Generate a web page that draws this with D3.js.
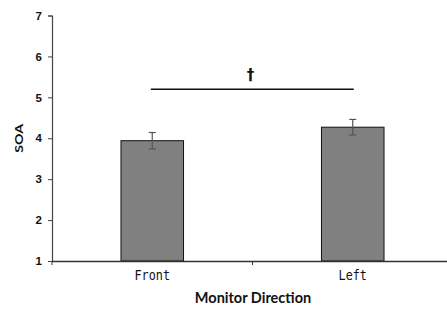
<!DOCTYPE html>
<html>
<head>
<meta charset="utf-8">
<script src="https://cdn.jsdelivr.net/npm/d3@7"></script>
<style>
  html, body { margin: 0; padding: 0; background: #fff; }
  svg { display: block; }
</style>
</head>
<body>
<svg id="chart" width="447" height="309"></svg>
<script>
const categories = ["Front", "Left"];
const means = [3.94, 4.27];
const errors = [0.2, 0.19];
const yTicks = [1, 2, 3, 4, 5, 6, 7];
const sigLevel = 5.2;
const sigMark = "†";
const yTitle = "SOA";
const xTitle = "Monitor Direction";

(function () {
const svg = d3.select("#chart");
const mLeft = 52, mRight = 453, mTop = 15.5, mBottom = 261;

const y = d3.scaleLinear().domain([1, 7]).range([mBottom, mTop]);
const x = d3.scaleBand().domain(categories).range([mLeft, mRight]).padding(0);
const barW = x.bandwidth() * 0.312;

// bars
svg.selectAll("rect.bar").data(categories).enter().append("rect")
  .attr("class", "bar")
  .attr("x", d => x(d) + x.bandwidth() / 2 - barW / 2)
  .attr("y", (d, i) => y(means[i]))
  .attr("width", barW)
  .attr("height", (d, i) => y(1) - y(means[i]))
  .attr("fill", "#808080")
  .attr("stroke", "#111")
  .attr("stroke-width", 1);

// error bars
const eb = svg.selectAll("g.err").data(categories).enter().append("g")
  .attr("class", "err")
  .attr("stroke", "#555")
  .attr("stroke-width", 1.2);
eb.append("line")
  .attr("x1", d => x(d) + x.bandwidth() / 2).attr("x2", d => x(d) + x.bandwidth() / 2)
  .attr("y1", (d, i) => y(means[i] + errors[i])).attr("y2", (d, i) => y(means[i] - errors[i]));
eb.append("line")
  .attr("x1", d => x(d) + x.bandwidth() / 2 - 3.5).attr("x2", d => x(d) + x.bandwidth() / 2 + 3.5)
  .attr("y1", (d, i) => y(means[i] + errors[i])).attr("y2", (d, i) => y(means[i] + errors[i]));
eb.append("line")
  .attr("x1", d => x(d) + x.bandwidth() / 2 - 3.5).attr("x2", d => x(d) + x.bandwidth() / 2 + 3.5)
  .attr("y1", (d, i) => y(means[i] - errors[i])).attr("y2", (d, i) => y(means[i] - errors[i]));

// y axis
const yAxis = svg.append("g")
  .attr("transform", `translate(${mLeft},0)`)
  .call(d3.axisLeft(y).tickValues(yTicks).tickSize(4).tickPadding(6).tickFormat(d3.format("d")));
yAxis.select(".domain").attr("stroke", "#444").attr("stroke-width", 1.2);
yAxis.selectAll(".tick line").attr("stroke", "#444");
yAxis.selectAll("text")
  .attr("font-family", "'Liberation Sans', Arial, sans-serif")
  .attr("font-weight", "bold")
  .attr("font-size", 11.5)
  .attr("fill", "#111");

// x axis
const xAxis = svg.append("g")
  .attr("transform", `translate(0,${mBottom})`)
  .call(d3.axisBottom(x).tickSize(0).tickPadding(10));
xAxis.select(".domain").attr("stroke", "#333").attr("stroke-width", 1.6);
xAxis.selectAll("text")
  .attr("font-family", "'DejaVu Sans Mono', monospace")
  .attr("font-size", 13.5)
  .attr("dy", "0.7em")
  .attr("textLength", d => d.length * 7.1)
  .attr("lengthAdjust", "spacingAndGlyphs")
  .attr("fill", "#111");
// boundary ticks between categories
svg.append("g").selectAll("line").data(categories).enter().append("line")
  .attr("x1", d => x(d)).attr("x2", d => x(d))
  .attr("y1", mBottom).attr("y2", mBottom + 4)
  .attr("stroke", "#333").attr("stroke-width", 1);

// significance line
const cx0 = x(categories[0]) + x.bandwidth() / 2;
const cx1 = x(categories[1]) + x.bandwidth() / 2;
svg.append("line")
  .attr("x1", cx0 - 1.5).attr("x2", cx1 + 1)
  .attr("y1", y(sigLevel)).attr("y2", y(sigLevel))
  .attr("stroke", "#111").attr("stroke-width", 1.5);
svg.append("text")
  .attr("x", (cx0 + cx1) / 2 - 2)
  .attr("y", y(sigLevel) - 9)
  .attr("text-anchor", "middle")
  .attr("font-family", "'DejaVu Sans', sans-serif")
  .attr("font-weight", "bold")
  .attr("font-size", 15)
  .attr("fill", "#111")
  .text(sigMark);

// axis titles
svg.append("text")
  .attr("transform", `translate(22.5,${(mTop + mBottom) / 2}) rotate(-90)`)
  .attr("text-anchor", "middle")
  .attr("font-family", "Lato, 'Open Sans', sans-serif")
  .attr("font-weight", "bold")
  .attr("font-size", 11)
  .attr("textLength", 29)
  .attr("lengthAdjust", "spacingAndGlyphs")
  .attr("fill", "#111")
  .text(yTitle);
svg.append("text")
  .attr("x", 253)
  .attr("y", 302.5)
  .attr("text-anchor", "middle")
  .attr("font-family", "Lato, 'Open Sans', sans-serif")
  .attr("font-weight", "bold")
  .attr("font-size", 14.5)
  .attr("fill", "#111")
  .text(xTitle);
})();
</script>
</body>
</html>
